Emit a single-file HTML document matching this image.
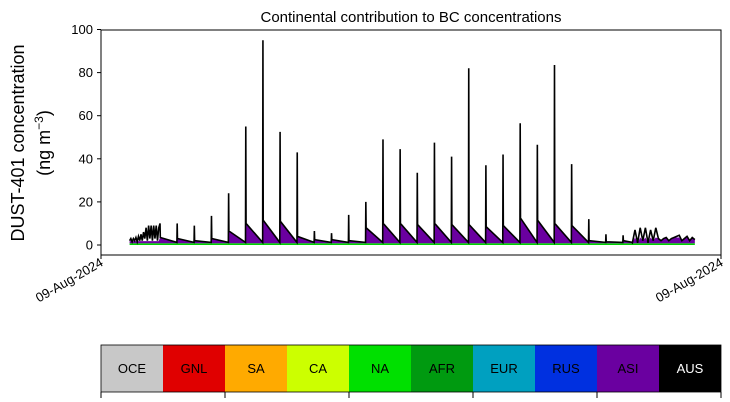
<!DOCTYPE html>
<html><head><meta charset="utf-8"><style>
body{margin:0;background:#fff;}
svg{display:block;font-family:"Liberation Sans",sans-serif;}
</style></head><body>
<svg id="chart" width="730" height="402" viewBox="0 0 730 402">
<text x="411" y="22" font-size="15" text-anchor="middle">Continental contribution to BC concentrations</text>
<text transform="translate(24,143) rotate(-90)" font-size="18" text-anchor="middle">DUST-401 concentration</text>
<text transform="translate(50,143) rotate(-90)" font-size="18" text-anchor="middle">(ng m<tspan font-size="12" dy="-7">−3</tspan><tspan dy="7">)</tspan></text>
<g id="plot"></g>
<rect x="101" y="30" width="620" height="225" fill="none" stroke="#000" stroke-width="1"/>
<g id="yaxis"></g>
<g id="xaxis"></g>
<g id="legend"></g>
</svg>
<script>
const yTicks=[0,20,40,60,80,100];
const xTickLabels=["09-Aug-2024","09-Aug-2024"];
const spikePeaks=[10,10,9,13.5,24,55,95,52.5,43,6.5,5.5,14,20,49,44.5,33.5,47.5,41,82,37,42,56.5,46.5,83.5,37.5,12,5,4.5];
const sawStart=[3.5,3,2,3,6.5,10,11.5,11,4,2.5,2.5,2,8,10,10,9.5,10,9.5,9.5,8.5,9,12.5,11.5,10,9,2,1.5,2];
const startNoise=[2,3,1.5,3,2,3.5,1.5,4,2,5,2,6,3,8,2,9,3,9,2,9,3,9,2,8];
const endNoise=[1,7,1,8,2,8,1,7,2,8,3,2,3,3.5,2,3,3.5,4,4.5,2,3,4,2,3.5,2.5];
const greenLevel=0.8;
const tStart=40, period=24, tFirstSpike=82.6, tEnd=831, tMax=867.6;
const X0=101,X1=721,Y0=245,Y100=29.5;
const xs=t=>X0+(X1-X0)*t/tMax;
const ys=v=>Y0+(Y100-Y0)*v/100;
const ns="http://www.w3.org/2000/svg";
function mk(tag,attrs,parent){const e=document.createElementNS(ns,tag);for(const k in attrs)e.setAttribute(k,attrs[k]);parent.appendChild(e);return e;}
const pts=[];
startNoise.forEach((v,i)=>{const t=tStart+(tFirstSpike-tStart)*i/startNoise.length;pts.push([t,v,Math.min(v,1.8)]);});
spikePeaks.forEach((p,k)=>{const ts=tFirstSpike+k*period;const s=sawStart[k];
 pts.push([ts,p,s]);pts.push([ts+0.4,s,s]);
 if(k<spikePeaks.length-1){pts.push([ts+period-0.4,greenLevel+0.4,greenLevel+0.4]);}
});
const tLast=tFirstSpike+(spikePeaks.length-1)*period;
pts.push([tLast+12,greenLevel+0.5,greenLevel+0.5]);
endNoise.forEach((v,i)=>{const t=tLast+13+(tEnd-tLast-13)*i/(endNoise.length-1);pts.push([t,v,Math.min(v,3.5)]);});
const plot=document.getElementById('plot');
let g="M"+xs(pts[0][0])+","+ys(0);pts.forEach(p=>g+=" L"+xs(p[0])+","+ys(greenLevel));g+=" L"+xs(pts[pts.length-1][0])+","+ys(0)+"Z";
const gp=mk('path',{d:g,fill:"#00d000"},plot);


let pu="M"+xs(pts[0][0])+","+ys(greenLevel);pts.forEach(p=>pu+=" L"+xs(p[0])+","+ys(p[2]));
for(let i=pts.length-1;i>=0;i--)pu+=" L"+xs(pts[i][0])+","+ys(greenLevel);pu+="Z";
const pp=mk('path',{d:pu,fill:"#6a00a0"},plot);


let ln="";pts.forEach((p,i)=>ln+=(i?" L":"M")+xs(p[0])+","+ys(p[1]));
const lp=mk('path',{d:ln,fill:"none",stroke:"#000","stroke-width":1.6},plot);


const ya=document.getElementById('yaxis');
yTicks.forEach(v=>{const y=ys(v);
 const t=mk('line',{x1:97,x2:101,y1:y,y2:y,stroke:"#000"},ya);
 
 
 const l=mk('text',{x:93,y:y+4.5,"font-size":13,"text-anchor":"end"},ya);l.textContent=v;
 
 
});
const xa=document.getElementById('xaxis');
[X0,X1].forEach((x,i)=>{
 const t=mk('line',{x1:x,x2:x,y1:255,y2:259,stroke:"#000"},xa);
 
 
 const l=mk('text',{transform:"translate("+(x+3)+",265) rotate(-30)","font-size":13,"text-anchor":"end"},xa);l.textContent=xTickLabels[i];
 
 
});
const names=["OCE","GNL","SA","CA","NA","AFR","EUR","RUS","ASI","AUS"];
const cols=["#c8c8c8","#e00000","#ffaa00","#ccff00","#00e000","#009a10","#00a0c0","#0030e0","#6a00a0","#000000"];
const lg=document.getElementById('legend');
names.forEach((n,i)=>{const x=101+i*62;
 const r=mk('rect',{x:x,y:345,width:62,height:47,fill:cols[i]},lg);
 
 
 const t=mk('text',{x:x+31,y:373,"font-size":13,"text-anchor":"middle",fill:i==9?"#fff":"#000"},lg);t.textContent=n;
 
 
});
mk('rect',{x:101,y:345,width:620,height:47,fill:"none",stroke:"#000","stroke-width":0.8},lg);
[0,2,4,6,8,10].forEach(i=>{const x=101+i*62;mk('line',{x1:x,x2:x,y1:392,y2:398,stroke:"#000"},lg);});
</script>
</body></html>
